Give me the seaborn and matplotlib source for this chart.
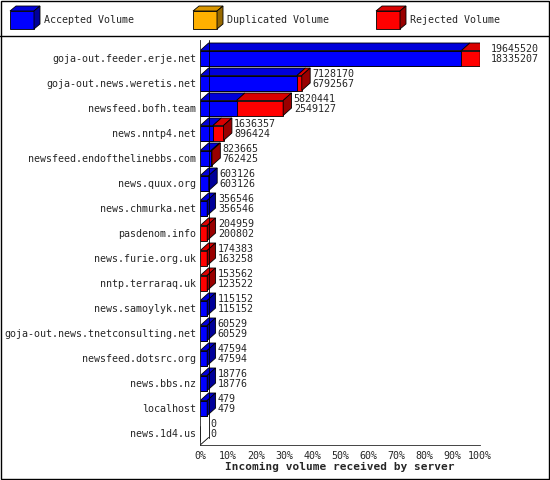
import matplotlib
matplotlib.use("Agg")
import matplotlib.pyplot as plt
import seaborn as sns
import pandas as pd
from matplotlib.patches import Polygon, Rectangle

servers = ["goja-out.feeder.erje.net", "goja-out.news.weretis.net", "newsfeed.bofh.team",
           "news.nntp4.net", "newsfeed.endofthelinebbs.com", "news.quux.org", "news.chmurka.net",
           "pasdenom.info", "news.furie.org.uk", "nntp.terraraq.uk", "news.samoylyk.net",
           "goja-out.news.tnetconsulting.net", "newsfeed.dotsrc.org", "news.bbs.nz",
           "localhost", "news.1d4.us"]
total = [19645520, 7128170, 5820441, 1636357, 823665, 603126, 356546, 204959, 174383,
         153562, 115152, 60529, 47594, 18776, 479, 0]
second = [18335207, 6792567, 2549127, 896424, 762425, 603126, 356546, 200802, 163258,
          123522, 115152, 60529, 47594, 18776, 479, 0]
accepted = [18335207, 6792567, 2549127, 896424, 762425, 603126, 356546, 0, 0,
            0, 115152, 60529, 47594, 18776, 479, 0]

sns.set_style("white")
plt.rcParams['font.family'] = ['DejaVu Sans Mono']
fig = plt.figure(figsize=(5.5, 4.8), dpi=100)
ax = fig.add_axes([0.364, 1 - 445/480, 0.509, 405/480])
mx = max(total)
BLUE, RED, YEL = "#0000ff", "#ff0000", "#ffb000"
def dark(c, f):
    import matplotlib.colors as mc
    r, g, b = mc.to_rgb(c); return (r*f, g*f, b*f)

def pct(v):
    return 0 if v == 0 else max(v / mx * 100, 2.5)

df = pd.DataFrame({"server": servers,
                   "tot": [pct(t) for t in total],
                   "acc": [pct(a) if a > 0 else 0 for a in accepted]})
h = 0.6
sns.barplot(data=df, y="server", x="tot", color=RED, saturation=1, width=h, ax=ax,
            orient="h", edgecolor="black", linewidth=0.6)
sns.barplot(data=df, y="server", x="acc", color=BLUE, saturation=1, width=h, ax=ax,
            orient="h", edgecolor="black", linewidth=0.6)
dx, dy = 3.0, 0.3
for i, (t, a) in enumerate(zip(df.tot, df.acc)):
    if t == 0:
        continue
    top = i - h / 2
    segs = []
    if a > 0:
        segs.append((0, a, BLUE))
    if t > a:
        segs.append((a, t, RED))
    for x0, x1, c in segs:
        ax.add_patch(Polygon([(x0, top), (x0 + dx, top - dy), (x1 + dx, top - dy), (x1, top)],
                             closed=True, fc=dark(c, 0.85), ec="black", lw=0.6))
    c = segs[-1][2]
    ax.add_patch(Polygon([(t, top), (t + dx, top - dy), (t + dx, top + h - dy), (t, top + h)],
                         closed=True, fc=dark(c, 0.6), ec="black", lw=0.6))
for i in range(len(servers)):
    ax.text(df.tot[i] + dx + 0.8, i - 0.15, f"{total[i]}\n{second[i]}", fontsize=7.2,
            va="center", ha="left", linespacing=1.0)
ax.plot([dx, dx], [-0.72, 15.18], color="black", lw=0.6)
ax.plot([0, dx], [15.48, 15.18], color="black", lw=0.6)
ax.set_xlim(0, 100)
ax.set_ylim(15.48, -0.72)
ax.set_xticks(range(0, 101, 10))
ax.set_xticklabels([f"{v}%" for v in range(0, 101, 10)], fontsize=7.2)
ax.tick_params(axis="y", labelsize=7.2, length=0, pad=3)
ax.tick_params(axis="x", length=3, pad=1)
ax.set_ylabel("")
ax.set_xlabel("Incoming volume received by server", fontsize=8, fontweight="bold", labelpad=1)
for s in ["top", "right"]:
    ax.spines[s].set_visible(False)
ax.spines["left"].set_linewidth(0.6)
ax.spines["bottom"].set_linewidth(0.6)

fig.add_artist(Rectangle((0.002, 0.002), 0.996, 0.996, transform=fig.transFigure,
                         fill=False, ec="black", lw=1))
fig.add_artist(plt.Line2D([0, 1], [1 - 36/480, 1 - 36/480], transform=fig.transFigure,
                          color="black", lw=1))
for x0, c, lab in [(10, BLUE, "Accepted Volume"), (193, YEL, "Duplicated Volume"),
                   (376, RED, "Rejected Volume")]:
    X, Y, W = x0 / 550, 1 - 29/480, 24 / 550
    H = 18 / 480
    fig.add_artist(Rectangle((X, Y), W, H, transform=fig.transFigure, fc=c, ec="black", lw=0.6))
    fig.add_artist(Polygon([(X, Y + H), (X + 6/550, Y + H + 5/480), (X + W + 6/550, Y + H + 5/480),
                            (X + W, Y + H)], transform=fig.transFigure, fc=dark(c, 0.85), ec="black", lw=0.6))
    fig.add_artist(Polygon([(X + W, Y), (X + W + 6/550, Y + 5/480), (X + W + 6/550, Y + H + 5/480),
                            (X + W, Y + H)], transform=fig.transFigure, fc=dark(c, 0.6), ec="black", lw=0.6))
    fig.text((x0 + 34) / 550, 1 - 20/480, lab, fontsize=7.2, va="center")
fig.savefig("out.png", dpi=100)
